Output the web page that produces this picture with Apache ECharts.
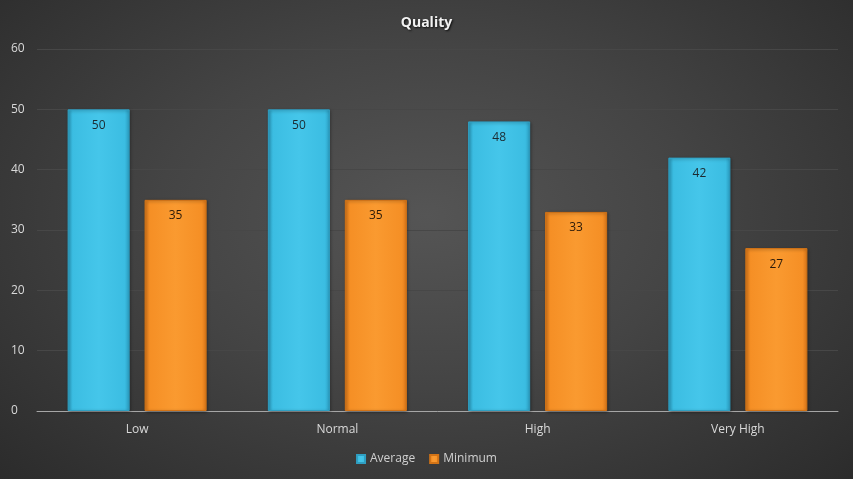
<!DOCTYPE html>
<html><head><meta charset="utf-8">
<script src="https://cdn.jsdelivr.net/npm/echarts@6/dist/echarts.min.js"></script>
<style>
html,body{margin:0;padding:0;}
#c{width:853px;height:479px;background:radial-gradient(ellipse 70% 80% at 50% 45%, #555555 0%, #444444 45%, #2b2b2b 100%);}
</style></head><body>
<div id="c"></div>
<script>
const categories = ['Low', 'Normal', 'High', 'Very High'];
const averageValues = [50, 50, 48, 42];
const minimumValues = [35, 35, 33, 27];
const yTicks = [0, 10, 20, 30, 40, 50, 60];

const chart = echarts.init(document.getElementById('c'), null, {renderer: 'canvas'});
function grad(dark, mid, light) {
  return new echarts.graphic.LinearGradient(0, 0, 1, 0, [
    {offset: 0, color: dark}, {offset: 0.08, color: mid}, {offset: 0.5, color: light},
    {offset: 0.92, color: mid}, {offset: 1, color: dark}
  ]);
}
const font = '"Open Sans", "DejaVu Sans", sans-serif';
chart.setOption({
  backgroundColor: 'transparent',
  title: {
    text: 'Quality', left: 'center', top: 11,
    textStyle: {color: '#f2f2f2', fontSize: 14, fontWeight: 'bold', fontFamily: font,
      textShadowColor: 'rgba(0,0,0,0.8)', textShadowBlur: 2, textShadowOffsetX: 1, textShadowOffsetY: 1}
  },
  legend: {
    bottom: 9, left: 'center', itemWidth: 8, itemHeight: 8, itemGap: 14,
    icon: 'rect',
    textStyle: {color: '#d0d0d0', fontSize: 12, fontFamily: font},
    data: ['Average', 'Minimum']
  },
  grid: {left: 37, right: 15, top: 49, bottom: 68, containLabel: false},
  xAxis: {
    type: 'category', data: categories,
    axisLine: {lineStyle: {color: '#a6a6a6', width: 1}},
    axisTick: {show: false},
    axisLabel: {color: '#d9d9d9', fontSize: 12, fontFamily: font, margin: 13}
  },
  yAxis: {
    type: 'value', min: yTicks[0], max: yTicks[yTicks.length - 1], interval: 10,
    axisLine: {show: false}, axisTick: {show: false},
    axisLabel: {color: '#d9d9d9', fontSize: 12, fontFamily: font, margin: 26, align: 'left'},
    splitLine: {lineStyle: {color: '#474747', width: 1}}
  },
  series: [
    {
      name: 'Average', type: 'bar', data: averageValues,
      barWidth: '31%', barGap: '24%',
      itemStyle: {color: grad('#2a9cc0', '#3bbde2', '#45c6ea'), borderColor: '#2f9fc2', borderWidth: 1,
        shadowColor: 'rgba(0,0,0,0.35)', shadowBlur: 3, shadowOffsetX: 1, shadowOffsetY: 1},
      label: {show: true, position: 'insideTop', distance: 10, color: '#1c2a30', fontSize: 12, fontFamily: font}
    },
    {
      name: 'Minimum', type: 'bar', data: minimumValues,
      barWidth: '31%',
      itemStyle: {color: grad('#d9761a', '#f58f25', '#fa9a30'), borderColor: '#d27316', borderWidth: 1,
        shadowColor: 'rgba(0,0,0,0.35)', shadowBlur: 3, shadowOffsetX: 1, shadowOffsetY: 1},
      label: {show: true, position: 'insideTop', distance: 10, color: '#2a1a0a', fontSize: 12, fontFamily: font}
    }
  ]
});
</script>
</body></html>
